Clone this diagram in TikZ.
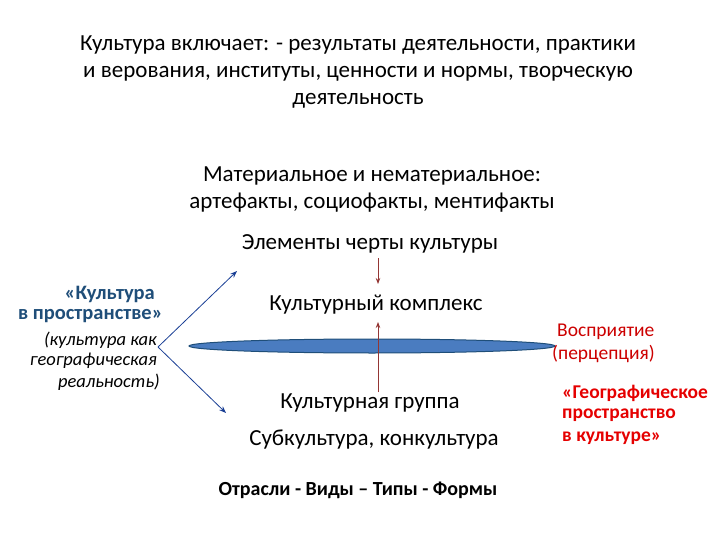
\documentclass[tikz,border=0pt]{standalone}
\usepackage{fontspec}
\setmainfont{Carlito}
\usetikzlibrary{arrows.meta}
\definecolor{tblue}{HTML}{1F4E79}
\definecolor{ell}{HTML}{4A7CC0}
\definecolor{dred}{HTML}{943634}
\begin{document}
\begin{tikzpicture}[x=1pt,y=-1pt,
  txt/.style={inner sep=0pt,font=\fontsize{23}{27}\selectfont,align=center},
  lft/.style={inner sep=0pt,anchor=east},
  rgt/.style={inner sep=0pt,anchor=west},
  redar/.style={draw=dred,thick,-{Stealth[length=6pt]}},
  bluar/.style={draw=tblue!80!blue,thick,-{Stealth[length=7pt]}}]
\useasboundingbox (0,0) rectangle (720,540);
\node[txt] (top) at (358,72) {Культура включает: - результаты деятельности, практики\\и верования, институты, ценности и нормы, творческую\\деятельность};
\node[txt] (mat) at (372,190) {Материальное и нематериальное:\\артефакты, социофакты, ментифакты};
\node[txt] (el) at (370,244) {Элементы черты культуры};
\node[txt] (kk) at (376,305) {Культурный комплекс};
\node[txt] (kg) at (370,403) {Культурная группа};
\node[txt] (sk) at (374,440) {Субкультура, конкультура};
\node[txt,font=\fontsize{20}{24}\selectfont\bfseries] (ot) at (358,490) {Отрасли - Виды – Типы - Формы};
\draw[fill=ell,draw=tblue,line width=1pt] (372,346) ellipse (183 and 7);
\coordinate (a1) at (378,258); \coordinate (a2) at (378,284);
\coordinate (b1) at (378,392); \coordinate (b2) at (378,322);
\draw[redar] (a1) -- (a2);
\draw[redar] (b1) -- (b2);
\coordinate (v) at (158,347);
\coordinate (u) at (237,271);
\coordinate (d) at (226,413);
\draw[bluar] (v) -- (u);
\draw[bluar] (v) -- (d);
\node[lft,text=tblue,font=\fontsize{20.5}{24}\selectfont\bfseries] (l1) at (155,294) {«Культура};
\node[lft,text=tblue,font=\fontsize{20.5}{24}\selectfont\bfseries] (l2) at (163,316) {в пространстве»};
\node[lft,font=\fontsize{18.5}{22}\selectfont\itshape] (l3) at (157,340) {(культура как};
\node[lft,font=\fontsize{18.5}{22}\selectfont\itshape] (l4) at (157,361) {географическая};
\node[lft,font=\fontsize{18.5}{22}\selectfont\itshape] (l5) at (160,382) {реальность)};
\node[rgt,text=red!80!black,font=\fontsize{19.5}{23}\selectfont] (r1) at (557,332) {Восприятие};
\node[rgt,text=red!80!black,font=\fontsize{19.5}{23}\selectfont] (r2) at (552,354) {(перцепция)};
\node[rgt,text=red!90!black,font=\fontsize{19.5}{23}\selectfont\bfseries] (g1) at (562,393) {«Географическое};
\node[rgt,text=red!90!black,font=\fontsize{19.5}{23}\selectfont\bfseries] (g2) at (562,415) {пространство};
\node[rgt,text=red!90!black,font=\fontsize{19.5}{23}\selectfont\bfseries] (g3) at (562,438) {в культуре»};
\end{tikzpicture}
\end{document}
